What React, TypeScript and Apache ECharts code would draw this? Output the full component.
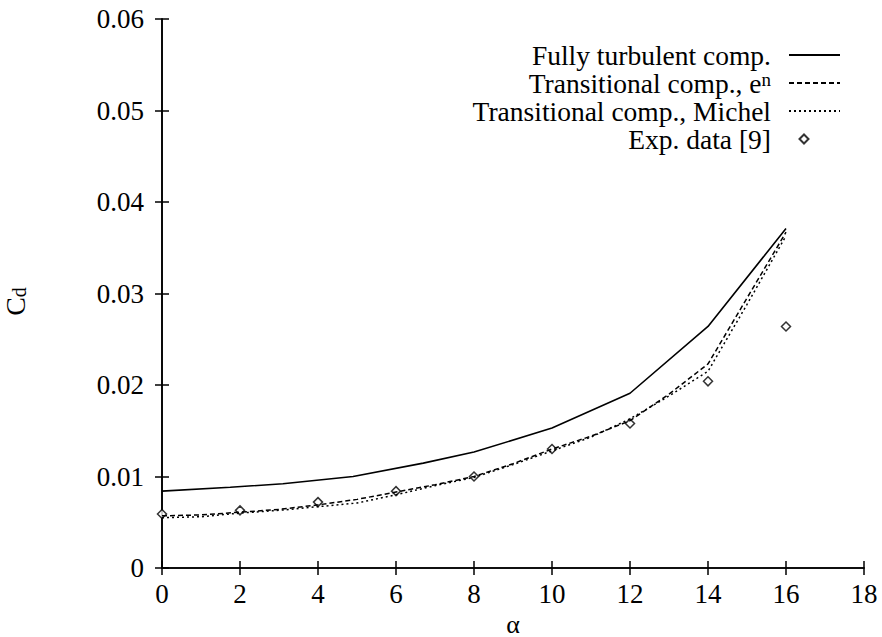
import React, { useEffect, useRef } from 'react';
import * as echarts from 'echarts';

const turbAlpha = [0, 1.75, 3.1, 4.9, 6.7, 8, 10, 12, 14, 16];
const turbCd = [0.0084, 0.00883, 0.0092, 0.01, 0.01146, 0.01267, 0.0153, 0.0191, 0.0264, 0.0371];

const transAlpha = [0, 1, 2, 3, 4, 5, 6, 7, 8, 9, 10, 11, 12, 13, 14, 15, 16];
const enCd = [0.0057, 0.0058, 0.0061, 0.0064, 0.0069, 0.0075, 0.0083, 0.0091, 0.01, 0.0114, 0.013, 0.0144, 0.0161, 0.019, 0.0223, 0.0295, 0.0367];
const michelCd = [0.0055, 0.0056, 0.006, 0.0063, 0.0067, 0.0071, 0.008, 0.009, 0.0099, 0.0113, 0.0128, 0.0143, 0.0163, 0.0188, 0.0215, 0.0288, 0.0363];

const expAlpha = [0, 2, 4, 6, 8, 10, 12, 14, 16];
const expCd = [0.0059, 0.0063, 0.0072, 0.0084, 0.01, 0.013, 0.0158, 0.0204, 0.0264];

const seriesNames = ['Fully turbulent comp.', 'Transitional comp., en', 'Transitional comp., Michel', 'Exp. data [9]'];

const FONT = "'Liberation Serif', 'Times New Roman', serif";

const zip = (xs: number[], ys: number[]) => xs.map((x, i) => [x, ys[i]]);

export default function App() {
  const ref = useRef<HTMLDivElement>(null);
  useEffect(() => {
    if (!ref.current) return;
    const chart = echarts.init(ref.current, undefined, { renderer: 'svg' });
    const axisLine = { show: true, lineStyle: { color: '#000', width: 1.6 } };
    const axisTick = { show: true, inside: true, length: 7, lineStyle: { color: '#000', width: 1.5 } };
    const hiddenSymbol = { opacity: 0 };
    chart.setOption({
      animation: false,
      backgroundColor: '#fff',
      grid: { left: 162, right: 18, top: 19, bottom: 69, containLabel: false, outerBoundsMode: 'none' },
      legend: {
        orient: 'vertical',
        align: 'right',
        right: 41,
        top: 41,
        padding: 0,
        itemGap: 0,
        itemWidth: 51,
        itemHeight: 10,
        data: [
          { name: seriesNames[0], itemStyle: hiddenSymbol },
          { name: seriesNames[1], itemStyle: hiddenSymbol },
          { name: seriesNames[2], itemStyle: hiddenSymbol },
          { name: seriesNames[3], icon: 'path://M0,0 M51,10 M10.5,5 L15,0.5 L19.5,5 L15,9.5 Z' },
        ],
        formatter: (name: string) =>
          name === 'Transitional comp., en' ? '{a|Transitional comp., e}{sup|n}' : '{a|' + name + '}',
        textStyle: {
          fontFamily: FONT,
          fontSize: 27.5,
          color: '#000',
          lineHeight: 27,
          padding: [0, 13, 0, 0],
          rich: {
            a: { fontFamily: FONT, fontSize: 27.5, lineHeight: 27, color: '#000' },
            sup: { fontFamily: FONT, fontSize: 19, lineHeight: 12, verticalAlign: 'top', color: '#000' },
          },
        },
      },
      xAxis: [
        {
          type: 'value',
          min: 0,
          max: 18,
          interval: 2,
          position: 'bottom',
          name: 'α',
          nameLocation: 'middle',
          nameGap: 43,
          nameTextStyle: { fontFamily: FONT, fontSize: 26, lineHeight: 20, color: '#000' },
          axisLine,
          axisTick,
          splitLine: { show: false },
          axisLabel: { fontFamily: FONT, fontSize: 27, color: '#000', margin: 12 },
        },
        {
          type: 'value',
          min: 0,
          max: 18,
          interval: 2,
          position: 'top',
          axisLine,
          axisTick,
          splitLine: { show: false },
          axisLabel: { show: false },
        },
      ],
      yAxis: [
        {
          type: 'value',
          min: 0,
          max: 0.06,
          interval: 0.01,
          position: 'left',
          name: '{c|C}{d|d}',
          nameLocation: 'middle',
          nameRotate: 90,
          nameGap: 133,
          nameTextStyle: {
            padding: [0, 16, 0, 0],
            rich: {
              c: { fontFamily: FONT, fontSize: 28, lineHeight: 28, padding: [0, 0, 14, 0], verticalAlign: 'top', color: '#000' },
              d: { fontFamily: FONT, fontSize: 20, lineHeight: 20, verticalAlign: 'bottom', color: '#000' },
            },
          },
          axisLine,
          axisTick,
          splitLine: { show: false },
          axisLabel: {
            fontFamily: FONT,
            fontSize: 27,
            color: '#000',
            margin: 18,
            formatter: (v: number) => (v === 0 ? '0' : v.toFixed(2)),
          },
        },
        {
          type: 'value',
          min: 0,
          max: 0.06,
          interval: 0.01,
          position: 'right',
          axisLine,
          axisTick,
          splitLine: { show: false },
          axisLabel: { show: false },
        },
      ],
      series: [
        {
          name: seriesNames[0],
          type: 'line',
          data: zip(turbAlpha, turbCd),
          symbol: 'none',
          lineStyle: { color: '#000', width: 1.6, type: 'solid' },
          itemStyle: { color: '#000' },
        },
        {
          name: seriesNames[1],
          type: 'line',
          data: zip(transAlpha, enCd),
          symbol: 'none',
          lineStyle: { color: '#000', width: 1.5, type: [5, 3] },
          itemStyle: { color: '#000' },
        },
        {
          name: seriesNames[2],
          type: 'line',
          data: zip(transAlpha, michelCd),
          symbol: 'none',
          lineStyle: { color: '#000', width: 1.5, type: [2, 3] },
          itemStyle: { color: '#000' },
        },
        {
          name: seriesNames[3],
          type: 'scatter',
          data: zip(expAlpha, expCd),
          symbol: 'diamond',
          symbolSize: 9,
          itemStyle: { color: '#fff', borderColor: '#000', borderWidth: 1.5 },
        },
      ],
    });
    return () => chart.dispose();
  }, []);
  return <div ref={ref} style={{ position: 'fixed', left: 0, top: 0, width: 882, height: 637 }} />;
}
